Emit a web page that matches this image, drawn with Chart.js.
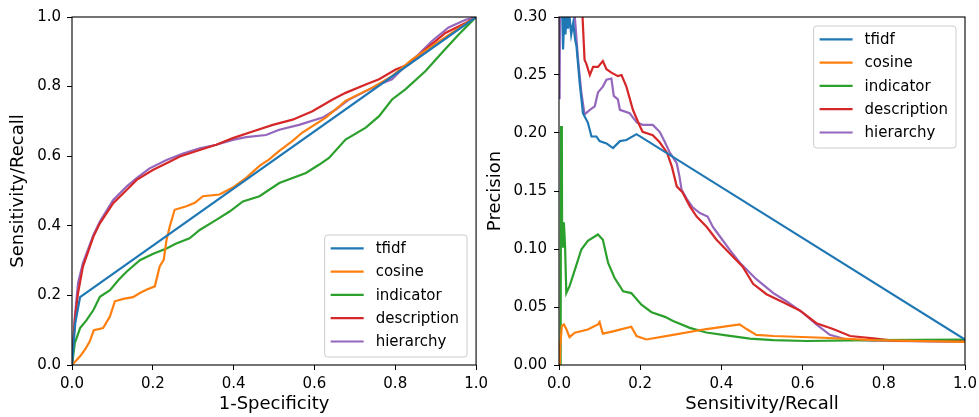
<!DOCTYPE html>
<html>
<head>
<meta charset="utf-8">
<script src="https://cdn.jsdelivr.net/npm/chart.js@4"></script>
<style>
body { margin: 0; background: #fff; width: 979px; height: 417px; position: relative; overflow: hidden; }
canvas { position: absolute; top: 0; }
</style>
</head>
<body>
<canvas id="roc" width="493" height="417" style="left:0px;width:493px;height:417px"></canvas>
<canvas id="pr" width="502" height="417" style="left:480px;width:502px;height:417px"></canvas>
<script>
// series names and colours (matplotlib tab10)
const labels = ['tfidf', 'cosine', 'indicator', 'description', 'hierarchy'];
const colors = ['#1f77b4', '#ff7f0e', '#2ca02c', '#d62728', '#9467bd'];

// tick labels
const unitTicks = [0, 0.2, 0.4, 0.6, 0.8, 1.0];
const precTicks = [0, 0.05, 0.10, 0.15, 0.20, 0.25, 0.30];

// ---- ROC curves (x = 1-specificity, y = sensitivity) ----
const roc_tfidf_x = [0, 0.008, 0.02, 1];
const roc_tfidf_y = [0, 0.12, 0.195, 1];

const roc_cosine_x = [0, 0.02, 0.032, 0.044, 0.054, 0.077, 0.094, 0.106, 0.127, 0.151, 0.168, 0.184, 0.205, 0.217, 0.227, 0.234, 0.242, 0.254, 0.283, 0.304, 0.324, 0.365, 0.398, 0.431, 0.464, 0.488, 0.513, 0.546, 0.57, 0.628, 0.677, 0.743, 0.792, 0.842, 0.891, 0.94, 1];
const roc_cosine_y = [0, 0.025, 0.044, 0.068, 0.1, 0.106, 0.14, 0.183, 0.19, 0.195, 0.207, 0.216, 0.226, 0.283, 0.302, 0.36, 0.398, 0.446, 0.456, 0.466, 0.485, 0.49, 0.51, 0.538, 0.572, 0.591, 0.615, 0.644, 0.668, 0.711, 0.759, 0.797, 0.83, 0.878, 0.916, 0.954, 1];

const roc_indicator_x = [0, 0.007, 0.02, 0.036, 0.053, 0.069, 0.094, 0.115, 0.135, 0.168, 0.201, 0.234, 0.258, 0.291, 0.316, 0.357, 0.39, 0.423, 0.464, 0.513, 0.579, 0.612, 0.636, 0.677, 0.727, 0.76, 0.792, 0.825, 0.875, 0.916, 0.957, 1];
const roc_indicator_y = [0, 0.063, 0.106, 0.129, 0.158, 0.196, 0.215, 0.244, 0.268, 0.301, 0.32, 0.335, 0.349, 0.364, 0.388, 0.417, 0.441, 0.47, 0.485, 0.523, 0.552, 0.576, 0.595, 0.648, 0.682, 0.715, 0.763, 0.792, 0.845, 0.898, 0.95, 1];

const roc_description_x = [0, 0.007, 0.015, 0.027, 0.053, 0.069, 0.102, 0.135, 0.16, 0.201, 0.234, 0.267, 0.316, 0.357, 0.398, 0.447, 0.497, 0.546, 0.595, 0.645, 0.677, 0.727, 0.76, 0.801, 0.834, 0.875, 0.924, 0.974, 1];
const roc_description_y = [0, 0.129, 0.207, 0.283, 0.369, 0.407, 0.465, 0.503, 0.532, 0.561, 0.58, 0.599, 0.618, 0.633, 0.652, 0.671, 0.69, 0.705, 0.729, 0.763, 0.782, 0.806, 0.821, 0.849, 0.864, 0.907, 0.954, 0.983, 1];

const roc_hierarchy_x = [0, 0.007, 0.015, 0.027, 0.053, 0.069, 0.102, 0.135, 0.16, 0.192, 0.234, 0.275, 0.316, 0.357, 0.398, 0.431, 0.48, 0.513, 0.562, 0.62, 0.653, 0.686, 0.727, 0.76, 0.792, 0.825, 0.858, 0.891, 0.932, 0.974, 1];
const roc_hierarchy_y = [0, 0.139, 0.236, 0.293, 0.374, 0.412, 0.474, 0.513, 0.537, 0.565, 0.589, 0.608, 0.623, 0.633, 0.647, 0.655, 0.661, 0.676, 0.69, 0.711, 0.734, 0.763, 0.787, 0.806, 0.821, 0.859, 0.893, 0.931, 0.97, 0.992, 1];

// ---- precision / recall curves (x = recall, y = precision) ----
const pr_tfidf_x = [0.002, 0.008, 0.01, 0.013, 0.016, 0.019, 0.022, 0.026, 0.03, 0.035, 0.04, 0.043, 0.051, 0.059, 0.071, 0.08, 0.092, 0.1, 0.117, 0.133, 0.15, 0.166, 0.191, 1];
const pr_tfidf_y = [0.5, 0.3, 0.272, 0.3, 0.285, 0.31, 0.29, 0.3, 0.285, 0.295, 0.28, 0.275, 0.243, 0.217, 0.209, 0.197, 0.197, 0.193, 0.191, 0.187, 0.193, 0.194, 0.199, 0.022];

const pr_cosine_x = [0.002, 0.003, 0.007, 0.012, 0.018, 0.026, 0.039, 0.071, 0.096, 0.1, 0.108, 0.133, 0.178, 0.191, 0.215, 0.281, 0.363, 0.445, 0.462, 0.486, 0.528, 0.651, 0.774, 1];
const pr_cosine_y = [0, 0.016, 0.0335, 0.035, 0.031, 0.024, 0.0278, 0.0306, 0.035, 0.037, 0.027, 0.029, 0.033, 0.025, 0.022, 0.026, 0.031, 0.035, 0.031, 0.026, 0.025, 0.0235, 0.0215, 0.02];

const pr_indicator_x = [0.004, 0.005, 0.007, 0.0075, 0.01, 0.012, 0.015, 0.018, 0.026, 0.039, 0.055, 0.071, 0.096, 0.108, 0.121, 0.137, 0.158, 0.178, 0.203, 0.228, 0.261, 0.281, 0.322, 0.363, 0.412, 0.47, 0.528, 0.61, 0.774, 1];
const pr_indicator_y = [0, 0.206, 0.2, 0.125, 0.102, 0.123, 0.102, 0.062, 0.068, 0.082, 0.0996, 0.107, 0.1125, 0.108, 0.088, 0.075, 0.0636, 0.062, 0.052, 0.0455, 0.0415, 0.038, 0.032, 0.028, 0.0255, 0.0227, 0.0215, 0.0207, 0.0215, 0.022];

const pr_description_x = [0.055, 0.058, 0.063, 0.067, 0.076, 0.084, 0.096, 0.108, 0.117, 0.129, 0.145, 0.154, 0.166, 0.182, 0.199, 0.206, 0.231, 0.248, 0.266, 0.278, 0.29, 0.304, 0.322, 0.339, 0.364, 0.388, 0.413, 0.452, 0.478, 0.511, 0.552, 0.593, 0.634, 0.675, 0.717, 0.774, 0.823, 1];
const pr_description_y = [0.34, 0.3, 0.263, 0.26, 0.25, 0.257, 0.257, 0.262, 0.255, 0.252, 0.249, 0.25, 0.24, 0.22, 0.206, 0.201, 0.198, 0.192, 0.183, 0.171, 0.154, 0.149, 0.137, 0.128, 0.119, 0.108, 0.099, 0.085, 0.07, 0.061, 0.054, 0.047, 0.036, 0.031, 0.025, 0.023, 0.021, 0.0215];

const pr_hierarchy_x = [0.0015, 0.003, 0.035, 0.039, 0.047, 0.055, 0.063, 0.076, 0.088, 0.096, 0.108, 0.117, 0.129, 0.135, 0.145, 0.15, 0.174, 0.192, 0.206, 0.231, 0.248, 0.261, 0.273, 0.29, 0.297, 0.302, 0.315, 0.329, 0.347, 0.366, 0.379, 0.396, 0.421, 0.446, 0.486, 0.528, 0.56, 0.601, 0.634, 0.667, 0.708, 0.774, 1];
const pr_hierarchy_y = [0.229, 0.35, 0.35, 0.3, 0.263, 0.235, 0.216, 0.22, 0.223, 0.235, 0.24, 0.246, 0.247, 0.232, 0.229, 0.22, 0.217, 0.209, 0.207, 0.207, 0.201, 0.192, 0.183, 0.174, 0.162, 0.151, 0.143, 0.136, 0.131, 0.128, 0.119, 0.111, 0.099, 0.088, 0.074, 0.062, 0.055, 0.045, 0.035, 0.026, 0.022, 0.021, 0.02];

const FONT = '"DejaVu Sans", sans-serif';

function series(i, xs, ys) {
    return {
        label: labels[i],
        data: xs.map((x, k) => ({ x: x, y: ys[k] })),
        borderColor: colors[i],
        backgroundColor: colors[i],
        borderWidth: 2.2,
        pointRadius: 0,
        tension: 0,
        fill: false,
        clip: 0
    };
}

function axis(title, tickVals, decimals, size, tickPad, titlePad) {
    return {
        type: 'linear',
        min: tickVals[0],
        max: tickVals[tickVals.length - 1],
        afterBuildTicks: s => { s.ticks = tickVals.map(v => ({ value: v })); },
        ticks: {
            color: '#000',
            font: { family: FONT, size: 15 },
            padding: tickPad,
            maxRotation: 0,
            autoSkip: false,
            callback: v => Number(v).toFixed(decimals)
        },
        grid: { display: true, drawOnChartArea: false, drawTicks: true, tickLength: 5, color: '#000', tickWidth: 1 },
        border: { display: false },
        title: {
            display: true,
            text: title,
            color: '#000',
            font: { family: FONT, size: 18, lineHeight: 1.2 },
            padding: titlePad
        },
        afterFit: s => { if (s.isHorizontal()) s.height = size; else s.width = size; }
    };
}

// axes frame + matplotlib style legend box
const mplLegend = {
    id: 'mplLegend',
    afterDraw(chart, args, opts) {
        const ctx = chart.ctx, a = chart.chartArea;
        ctx.save();
        ctx.strokeStyle = '#000';
        ctx.lineWidth = 1.1;
        ctx.strokeRect(a.left, a.top, a.right - a.left, a.bottom - a.top);

        ctx.font = '15px ' + FONT;
        const sets = chart.data.datasets;
        const tw = Math.max(...sets.map(d => ctx.measureText(d.label).width));
        const w = 51 + tw + 8, h = 122;
        const x = a.right - 9 - w;
        const y = opts.loc === 'upper' ? a.top + 9 : a.bottom - 8 - h;
        ctx.beginPath();
        ctx.roundRect(x, y, w, h, 3);
        ctx.fillStyle = 'rgba(255,255,255,0.8)';
        ctx.fill();
        ctx.strokeStyle = '#cccccc';
        ctx.lineWidth = 1;
        ctx.stroke();

        ctx.textBaseline = 'middle';
        sets.forEach((d, i) => {
            const cy = y + 13.3 + i * 23.3;
            ctx.beginPath();
            ctx.moveTo(x + 6, cy);
            ctx.lineTo(x + 39, cy);
            ctx.strokeStyle = d.borderColor;
            ctx.lineWidth = 2.2;
            ctx.stroke();
            ctx.fillStyle = '#000';
            ctx.fillText(d.label, x + 51, cy + 1);
        });
        ctx.restore();
    }
};

function makeChart(id, datasets, xAxis, yAxis, loc, padRight) {
    return new Chart(document.getElementById(id), {
        type: 'line',
        data: { datasets: datasets },
        options: {
            responsive: false,
            animation: false,
            devicePixelRatio: 1,
            layout: { padding: { top: 17, right: padRight, left: 0, bottom: 0 } },
            scales: { x: xAxis, y: yAxis },
            plugins: { legend: { display: false }, tooltip: { enabled: false }, mplLegend: { loc: loc } }
        },
        plugins: [mplLegend]
    });
}

makeChart('roc', [
    series(0, roc_tfidf_x, roc_tfidf_y),
    series(1, roc_cosine_x, roc_cosine_y),
    series(2, roc_indicator_x, roc_indicator_y),
    series(3, roc_description_x, roc_description_y),
    series(4, roc_hierarchy_x, roc_hierarchy_y)
],
    axis('1-Specificity', unitTicks, 1, 52, 5, { top: 0, bottom: 2 }),
    axis('Sensitivity/Recall', unitTicks, 1, 72, 6, { top: 8, bottom: 0 }),
    'lower', 15);

makeChart('pr', [
    series(0, pr_tfidf_x, pr_tfidf_y),
    series(1, pr_cosine_x, pr_cosine_y),
    series(2, pr_indicator_x, pr_indicator_y),
    series(3, pr_description_x, pr_description_y),
    series(4, pr_hierarchy_x, pr_hierarchy_y)
],
    axis('Sensitivity/Recall', unitTicks, 1, 52, 5, { top: 0, bottom: 2 }),
    axis('Precision', precTicks, 2, 79, 7, { top: 5, bottom: 0 }),
    'upper', 17);
</script>
</body>
</html>
